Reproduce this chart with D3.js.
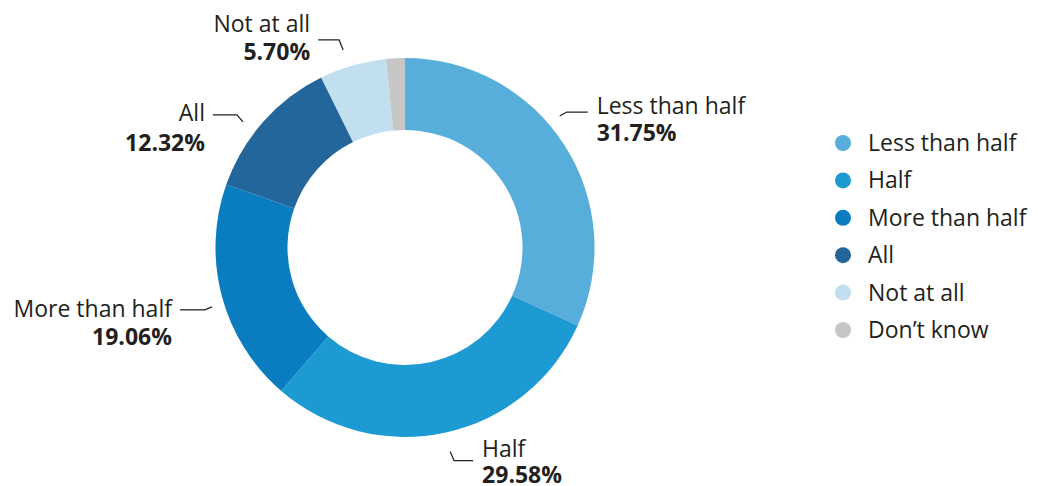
<!DOCTYPE html>
<html><head><meta charset="utf-8">
<script src="https://cdn.jsdelivr.net/npm/d3@7"></script>
<style>
body{margin:0;background:#fff;}
text{font-family:"Open Sans",Lato,sans-serif;fill:#231f20;}
</style></head>
<body><svg id="c" width="1038" height="486"></svg>
<script>
const categories = ["Less than half","Half","More than half","All","Not at all","Don\u2019t know"];
const values = [31.75, 29.58, 19.06, 12.32, 5.70, 1.59];
const valueLabels = ["31.75%","29.58%","19.06%","12.32%","5.70%",""];
const colors = ["#58aedb","#1e9ad3","#0a7dc1","#22669c","#c2dff0","#c6c6c6"];

const svg = d3.select("#c");
const cx = 405, cy = 247.5, rOuter = 189.5, rInner = 117.5;
const fs = "23px";
const data = categories.map((c,i)=>({cat:c, value:values[i], label:valueLabels[i], color:colors[i]}));
const pie = d3.pie().value(d=>d.value).sort(null);
const arc = d3.arc().innerRadius(rInner).outerRadius(rOuter);
const arcs = pie(data);
const g = svg.append("g").attr("transform",`translate(${cx},${cy})`);
g.selectAll("path").data(arcs).join("path").attr("d",arc).attr("fill",d=>d.data.color);

// label layout (leader lines): angle tweak (deg), elbow offset, horiz length, text baseline offsets
const layout = [
  {da:-7.5, r:203, ex:7, ey:-4, h:21, t1:2, t2:29},
  {da:0,    r:209, ex:4, ey:9,  h:19, t1:-4, t2:22},
  {da:-2.2, r:202, ex:-7, ey:3, h:25, t1:7, t2:35},
  {da:-3.8, r:205, ex:-6, ey:-7,h:24, t1:6, t2:36},
  {da:-1.4, r:207, ex:-4, ey:-10,h:21,t1:-8, t2:20}
];
const lab = svg.append("g");
arcs.forEach((a,i)=>{
  if(!data[i].label) return;
  const L = layout[i];
  const mid = (a.startAngle+a.endAngle)/2 + L.da*Math.PI/180;
  const sx = cx + L.r*Math.sin(mid), sy = cy - L.r*Math.cos(mid);
  const right = Math.sin(mid) > 0;
  const exx = sx + L.ex, eyy = sy + L.ey;
  const hx = exx + (right? L.h : -L.h);
  lab.append("polyline").attr("points",`${sx},${sy} ${exx},${eyy} ${hx},${eyy}`)
    .attr("fill","none").attr("stroke","#231f20").attr("stroke-width",1.2);
  const tx = hx + (right? 9 : -8);
  const anchor = right? "start":"end";
  lab.append("text").attr("x",tx).attr("y",eyy+L.t1).attr("text-anchor",anchor)
    .style("font-size",fs).text(data[i].cat);
  lab.append("text").attr("x",tx).attr("y",eyy+L.t2).attr("text-anchor",anchor)
    .style("font-size",fs).style("font-weight","bold").text(data[i].label);
});

// legend
const leg = svg.append("g").attr("transform","translate(843,143)");
const ly = d3.scalePoint().domain(categories).range([0,187]);
const items = leg.selectAll("g").data(data).join("g").attr("transform",d=>`translate(0,${ly(d.cat)})`);
items.append("circle").attr("r",8).attr("fill",d=>d.color);
items.append("text").attr("x",25).attr("y",8).style("font-size",fs).text(d=>d.cat);
</script></body></html>
